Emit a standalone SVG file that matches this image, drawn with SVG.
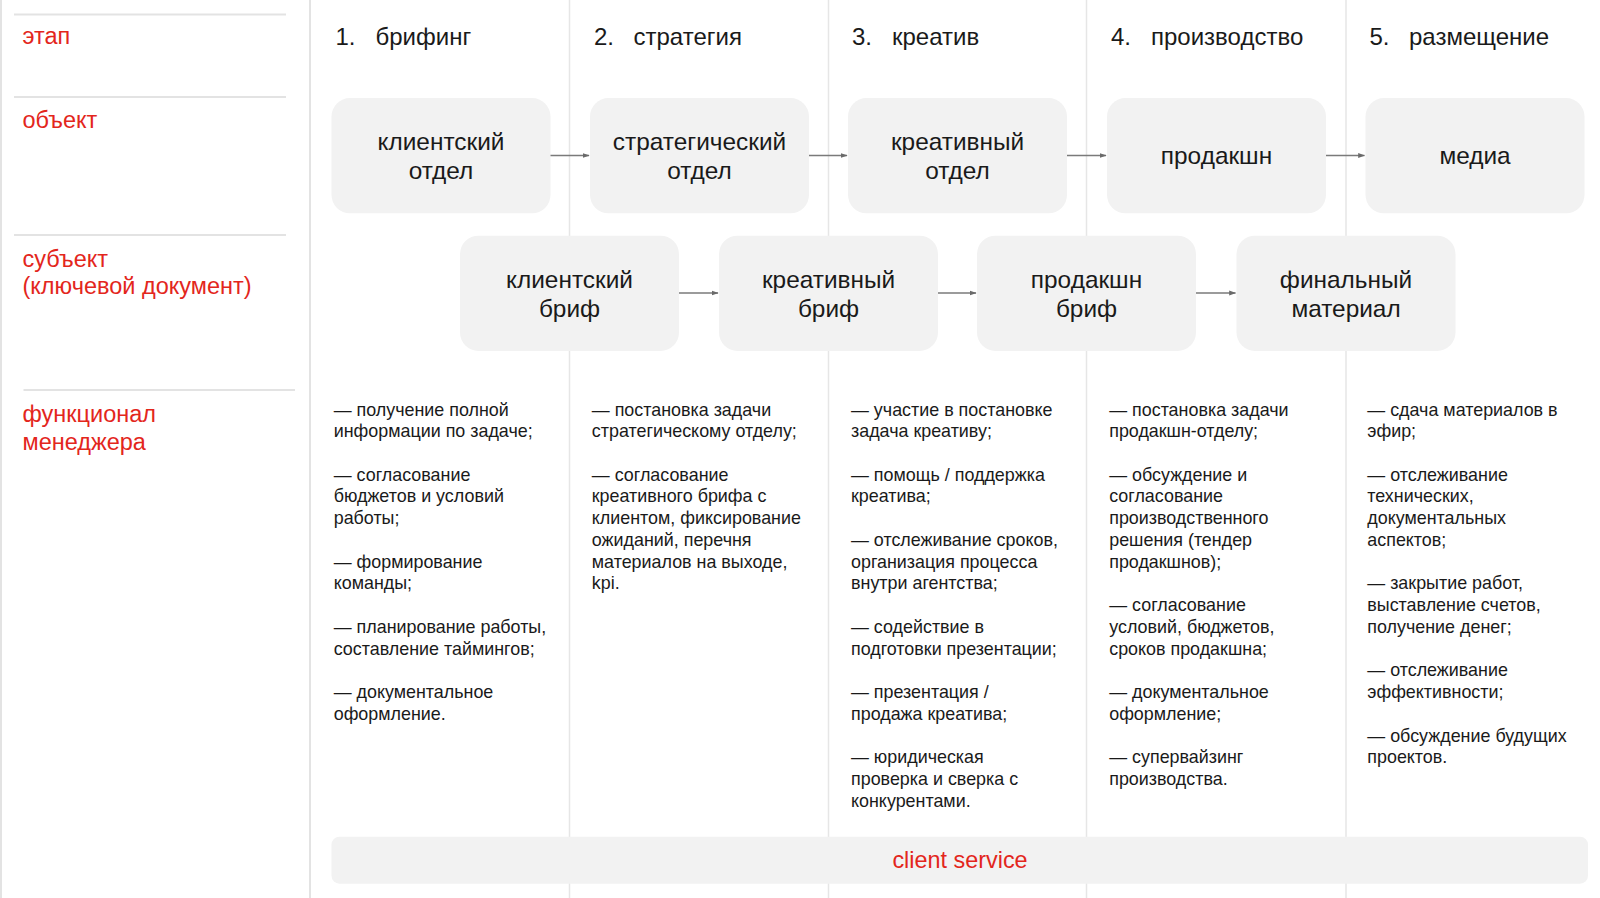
<svg xmlns="http://www.w3.org/2000/svg" width="1600" height="898" viewBox="0 0 1600 898">
<defs>
<style>
.bg{fill:#ffffff}
.grid{stroke:#e6e6e6;stroke-width:1.5;fill:none}
.sep{stroke:#e3e3e3;stroke-width:2;fill:none}
.lbl{font-family:"Liberation Sans",Arial,sans-serif;font-size:23.5px;fill:#e3261c}
.stage{font-family:"Liberation Sans",Arial,sans-serif;font-size:24px;fill:#1a1a1a}
.box{fill:#f2f2f2}
.bt{font-family:"Liberation Sans",Arial,sans-serif;font-size:24.4px;fill:#1a1a1a;text-anchor:middle}
.ft{font-family:"Liberation Sans",Arial,sans-serif;font-size:17.9px;fill:#1a1a1a}
.conn{stroke:#7a7a7a;stroke-width:1.3;fill:none;marker-end:url(#ah)}
.cs{font-family:"Liberation Sans",Arial,sans-serif;font-size:23.4px;fill:#e3261c;text-anchor:middle}
</style>
<marker id="ah" viewBox="0 0 10 10" refX="9" refY="5" markerWidth="7" markerHeight="7" orient="auto" markerUnits="userSpaceOnUse">
<path d="M0,1.5 L10,5 L0,8.5 z" fill="#6a6a6a"/>
</marker>
</defs>
<rect class="bg" x="0" y="0" width="1600" height="898"/>

<g id="grid">
<line class="sep" x1="1" y1="0" x2="1" y2="898"/>
<line class="sep" x1="310" y1="0" x2="310" y2="898"/>
<line class="grid" x1="569.5" y1="0" x2="569.5" y2="898"/>
<line class="grid" x1="828.5" y1="0" x2="828.5" y2="898"/>
<line class="grid" x1="1086.5" y1="0" x2="1086.5" y2="898"/>
<line class="grid" x1="1346" y1="0" x2="1346" y2="898"/>
<line class="sep" x1="14" y1="14.5" x2="286" y2="14.5"/>
<line class="sep" x1="14" y1="97" x2="286" y2="97"/>
<line class="sep" x1="14" y1="235" x2="286" y2="235"/>
<line class="sep" x1="23.5" y1="390" x2="295" y2="390"/>
</g>

<g id="row-labels">
<text class="lbl" x="22.5" y="44">этап</text>
<text class="lbl" x="22.5" y="127.5">объект</text>
<text class="lbl" x="22.5" y="266.5">субъект</text>
<text class="lbl" x="22.5" y="294">(ключевой документ)</text>
<text class="lbl" x="22.5" y="421.5">функционал</text>
<text class="lbl" x="22.5" y="450">менеджера</text>
</g>

<g id="stages">
<text class="stage" x="335.5" y="44.5">1.</text><text class="stage" x="375.5" y="44.5">брифинг</text>
<text class="stage" x="594" y="44.5">2.</text><text class="stage" x="633.5" y="44.5">стратегия</text>
<text class="stage" x="852" y="44.5">3.</text><text class="stage" x="892" y="44.5">креатив</text>
<text class="stage" x="1111" y="44.5">4.</text><text class="stage" x="1151" y="44.5">производство</text>
<text class="stage" x="1369.5" y="44.5">5.</text><text class="stage" x="1409" y="44.5">размещение</text>
</g>

<g id="obj-client">
<rect class="box" x="331.5" y="98" width="219" height="115.3" rx="18.5"/>
<text class="bt" x="441" y="150">клиентский</text><text class="bt" x="441" y="178.6">отдел</text>
</g>
<g id="obj-strategy">
<rect class="box" x="590" y="98" width="219" height="115.3" rx="18.5"/>
<text class="bt" x="699.5" y="150">стратегический</text><text class="bt" x="699.5" y="178.6">отдел</text>
</g>
<g id="obj-creative">
<rect class="box" x="848" y="98" width="219" height="115.3" rx="18.5"/>
<text class="bt" x="957.5" y="150">креативный</text><text class="bt" x="957.5" y="178.6">отдел</text>
</g>
<g id="obj-production">
<rect class="box" x="1107" y="98" width="219" height="115.3" rx="18.5"/>
<text class="bt" x="1216.5" y="164">продакшн</text>
</g>
<g id="obj-media">
<rect class="box" x="1365.5" y="98" width="219" height="115.3" rx="18.5"/>
<text class="bt" x="1475" y="164">медиа</text>
</g>

<g id="doc-client-brief">
<rect class="box" x="460" y="235.7" width="219" height="115.3" rx="18.5"/>
<text class="bt" x="569.5" y="288">клиентский</text><text class="bt" x="569.5" y="316.6">бриф</text>
</g>
<g id="doc-creative-brief">
<rect class="box" x="719" y="235.7" width="219" height="115.3" rx="18.5"/>
<text class="bt" x="828.5" y="288">креативный</text><text class="bt" x="828.5" y="316.6">бриф</text>
</g>
<g id="doc-production-brief">
<rect class="box" x="977" y="235.7" width="219" height="115.3" rx="18.5"/>
<text class="bt" x="1086.5" y="288">продакшн</text><text class="bt" x="1086.5" y="316.6">бриф</text>
</g>
<g id="doc-final">
<rect class="box" x="1236.5" y="235.7" width="219" height="115.3" rx="18.5"/>
<text class="bt" x="1346" y="288">финальный</text><text class="bt" x="1346" y="316.6">материал</text>
</g>

<g id="connectors">
<line class="conn" x1="550.5" y1="155.5" x2="589" y2="155.5"/>
<line class="conn" x1="809" y1="155.5" x2="847" y2="155.5"/>
<line class="conn" x1="1067" y1="155.5" x2="1106" y2="155.5"/>
<line class="conn" x1="1326" y1="155.5" x2="1364.5" y2="155.5"/>
<line class="conn" x1="679" y1="293" x2="718" y2="293"/>
<line class="conn" x1="938" y1="293" x2="976" y2="293"/>
<line class="conn" x1="1196" y1="293" x2="1235.5" y2="293"/>
</g>

<g id="func-1">
<text class="ft" x="333.7" y="415.5">— получение полной</text>
<text class="ft" x="333.7" y="437.2">информации по задаче;</text>
<text class="ft" x="333.7" y="480.7">— согласование</text>
<text class="ft" x="333.7" y="502.4">бюджетов и условий</text>
<text class="ft" x="333.7" y="524.2">работы;</text>
<text class="ft" x="333.7" y="567.6">— формирование</text>
<text class="ft" x="333.7" y="589.3">команды;</text>
<text class="ft" x="333.7" y="632.8">— планирование работы,</text>
<text class="ft" x="333.7" y="654.5">составление таймингов;</text>
<text class="ft" x="333.7" y="698">— документальное</text>
<text class="ft" x="333.7" y="719.7">оформление.</text>
</g>
<g id="func-2">
<text class="ft" x="591.8" y="415.5">— постановка задачи</text>
<text class="ft" x="591.8" y="437.2">стратегическому отделу;</text>
<text class="ft" x="591.8" y="480.7">— согласование</text>
<text class="ft" x="591.8" y="502.4">креативного брифа с</text>
<text class="ft" x="591.8" y="524.2">клиентом, фиксирование</text>
<text class="ft" x="591.8" y="545.9">ожиданий, перечня</text>
<text class="ft" x="591.8" y="567.6">материалов на выходе,</text>
<text class="ft" x="591.8" y="589.3">kpi.</text>
</g>
<g id="func-3">
<text class="ft" x="851" y="415.5">— участие в постановке</text>
<text class="ft" x="851" y="437.2">задача креативу;</text>
<text class="ft" x="851" y="480.7">— помощь / поддержка</text>
<text class="ft" x="851" y="502.4">креатива;</text>
<text class="ft" x="851" y="545.9">— отслеживание сроков,</text>
<text class="ft" x="851" y="567.6">организация процесса</text>
<text class="ft" x="851" y="589.3">внутри агентства;</text>
<text class="ft" x="851" y="632.8">— содействие в</text>
<text class="ft" x="851" y="654.5">подготовки презентации;</text>
<text class="ft" x="851" y="698">— презентация /</text>
<text class="ft" x="851" y="719.7">продажа креатива;</text>
<text class="ft" x="851" y="763.2">— юридическая</text>
<text class="ft" x="851" y="784.9">проверка и сверка с</text>
<text class="ft" x="851" y="806.6">конкурентами.</text>
</g>
<g id="func-4">
<text class="ft" x="1109.2" y="415.5">— постановка задачи</text>
<text class="ft" x="1109.2" y="437.2">продакшн-отделу;</text>
<text class="ft" x="1109.2" y="480.7">— обсуждение и</text>
<text class="ft" x="1109.2" y="502.4">согласование</text>
<text class="ft" x="1109.2" y="524.2">производственного</text>
<text class="ft" x="1109.2" y="545.9">решения (тендер</text>
<text class="ft" x="1109.2" y="567.6">продакшнов);</text>
<text class="ft" x="1109.2" y="611.1">— согласование</text>
<text class="ft" x="1109.2" y="632.8">условий, бюджетов,</text>
<text class="ft" x="1109.2" y="654.5">сроков продакшна;</text>
<text class="ft" x="1109.2" y="698">— документальное</text>
<text class="ft" x="1109.2" y="719.7">оформление;</text>
<text class="ft" x="1109.2" y="763.2">— супервайзинг</text>
<text class="ft" x="1109.2" y="784.9">производства.</text>
</g>
<g id="func-5">
<text class="ft" x="1367.3" y="415.5">— сдача материалов в</text>
<text class="ft" x="1367.3" y="437.2">эфир;</text>
<text class="ft" x="1367.3" y="480.7">— отслеживание</text>
<text class="ft" x="1367.3" y="502.4">технических,</text>
<text class="ft" x="1367.3" y="524.2">документальных</text>
<text class="ft" x="1367.3" y="545.9">аспектов;</text>
<text class="ft" x="1367.3" y="589.3">— закрытие работ,</text>
<text class="ft" x="1367.3" y="611.1">выставление счетов,</text>
<text class="ft" x="1367.3" y="632.8">получение денег;</text>
<text class="ft" x="1367.3" y="676.3">— отслеживание</text>
<text class="ft" x="1367.3" y="698">эффективности;</text>
<text class="ft" x="1367.3" y="741.5">— обсуждение будущих</text>
<text class="ft" x="1367.3" y="763.2">проектов.</text>
</g>

<g id="client-service">
<rect class="box" x="331.5" y="836.7" width="1256.5" height="47" rx="8"/>
<text class="cs" x="960" y="868.4">client service</text>
</g>
</svg>
